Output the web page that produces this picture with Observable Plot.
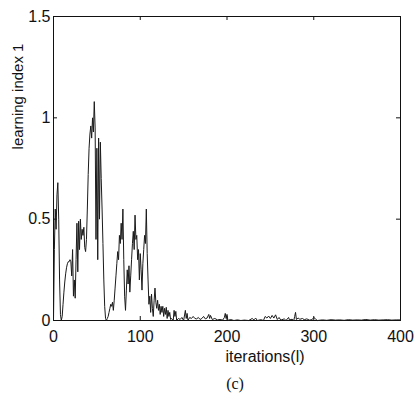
<!DOCTYPE html>
<html>
<head>
<meta charset="utf-8">
<script src="https://cdn.jsdelivr.net/npm/d3@7"></script>
<script src="https://cdn.jsdelivr.net/npm/@observablehq/plot@0.6"></script>
<style>
  html, body { margin: 0; padding: 0; background: #fff; }
  #chart svg { display: block; }
</style>
</head>
<body>
<div id="chart"></div>
<script>
const iterations = [0,1,2,3,4,5,6,7,8,9,10,11,12,13,14,15,16,17,18,19,20,21,22,23,24,25,26,27,28,29,30,31,32,33,34,35,36,37,38,39,40,41,42,43,44,45,46,47,48,49,50,51,52,53,54,55,56,57,58,59,60,61,62,63,64,65,66,67,68,69,70,71,72,73,74,75,76,77,78,79,80,81,82,83,84,85,86,87,88,89,90,91,92,93,94,95,96,97,98,99,100,101,102,103,104,105,106,107,108,109,110,111,112,113,114,115,116,117,118,119,120,121,122,123,124,125,126,127,128,129,130,131,132,133,134,135,136,138,139,140,141,142,144,146,148,150,152,153,154,155,157,159,161,163,165,167,169,171,173,175,177,179,180,181,183,186,189,192,195,197,198,199,200,201,204,208,212,216,220,225,229,231,233,235,239,242,244,246,248,250,252,254,256,258,260,262,266,268,271,272,275,277,278,279,280,282,284,287,289,292,295,298,300,302,304,310,315,320,325,330,335,340,345,350,355,360,365,370,375,380,385,390,395,400];
const learningIndex = [0.0,0.35,0.55,0.45,0.62,0.68,0.5,0.2,0.03,0.0,0.02,0.08,0.14,0.19,0.23,0.26,0.28,0.29,0.29,0.30,0.29,0.22,0.35,0.12,0.20,0.11,0.30,0.48,0.24,0.49,0.35,0.50,0.40,0.45,0.42,0.46,0.36,0.34,0.40,0.55,0.72,0.85,0.92,0.96,0.90,1.00,0.93,1.08,0.95,0.40,0.85,0.30,0.90,0.50,0.88,0.70,0.55,0.38,0.20,0.07,0.01,0.0,0.01,0.02,0.04,0.06,0.08,0.07,0.09,0.05,0.10,0.16,0.22,0.28,0.34,0.30,0.42,0.38,0.48,0.40,0.55,0.30,0.12,0.05,0.15,0.25,0.18,0.27,0.14,0.22,0.30,0.38,0.44,0.35,0.52,0.40,0.42,0.30,0.35,0.20,0.33,0.25,0.15,0.28,0.35,0.42,0.38,0.55,0.33,0.20,0.08,0.12,0.04,0.13,0.06,0.02,0.10,0.16,0.09,0.06,0.10,0.05,0.08,0.03,0.07,0.04,0.07,0.02,0.06,0.03,0.065,0.01,0.05,0.02,0.04,0.005,0.01,0.0,0.05,0.02,0.045,0.0,0.01,0.005,0.015,0.0,0.05,0.01,0.035,0.0,0.015,0.01,0.02,0.01,0.008,0.015,0.005,0.01,0.02,0.008,0.012,0.03,0.01,0.025,0.005,0.01,0.003,0.005,0.002,0.015,0.035,0.01,0.03,0.0,0.005,0.0,0.003,0.0,0.002,0.0,0.01,0.003,0.012,0.0,0.004,0.0,0.02,0.012,0.022,0.01,0.025,0.012,0.028,0.005,0.015,0.002,0.008,0.0,0.015,0.003,0.006,0.0,0.02,0.04,0.005,0.012,0.006,0.01,0.004,0.008,0.002,0.004,0.015,0.008,0.0,0.003,0.001,0.004,0.002,0.003,0.001,0.004,0.002,0.003,0.002,0.005,0.002,0.004,0.002,0.003,0.004,0.002,0.003,0.003];
const xTicks = [0, 100, 200, 300, 400];
const yTicks = [0, 0.5, 1, 1.5];
const xLabel = "iterations(l)";
const yLabel = "learning index 1";
const caption = "(c)";

const data = iterations.map((it, i) => ({it, v: learningIndex[i]}));

const W = 419, H = 402;
const mL = 53, mR = 19, mT = 16, mB = 82;
const pw = W - mL - mR, ph = H - mT - mB;
const ink = "#111";
const tickLen = 4;

const chart = Plot.plot({
  width: W,
  height: H,
  marginLeft: mL,
  marginRight: mR,
  marginTop: mT,
  marginBottom: mB,
  style: {fontFamily: "'Liberation Sans', Arial, sans-serif", fontSize: "16px", color: ink, background: "#fff"},
  x: {domain: [0, 400], ticks: xTicks},
  y: {domain: [0, 1.5], ticks: yTicks},
  marks: [
    Plot.frame({stroke: ink, strokeWidth: 1}),
    Plot.tickY(yTicks, {y: d => d, insetRight: pw - tickLen, stroke: ink}),
    Plot.tickY(yTicks, {y: d => d, insetLeft: pw - tickLen, stroke: ink}),
    Plot.tickX(xTicks, {x: d => d, insetTop: ph - tickLen, stroke: ink}),
    Plot.tickX(xTicks, {x: d => d, insetBottom: ph - tickLen, stroke: ink}),
    Plot.axisX({ticks: xTicks, tickSize: 0, tickPadding: 10, label: null, tickFormat: d => String(d), fontSize: 16}),
    Plot.axisY({ticks: yTicks, tickSize: 0, tickPadding: 3, label: null, tickFormat: d => String(d), fontSize: 16}),
    Plot.line(data, {x: "it", y: "v", stroke: "#1a1a1a", strokeWidth: 1}),
    Plot.text([xLabel], {text: d => d, frameAnchor: "bottom", textAnchor: "middle", lineAnchor: "middle", dx: 38, dy: 36, fontSize: 16, fill: ink}),
    Plot.text([yLabel], {text: d => d, frameAnchor: "top-left", textAnchor: "middle", lineAnchor: "middle", dx: -35, dy: 80, rotate: -90, fontSize: 15, fill: ink}),
    Plot.text([caption], {text: d => d, frameAnchor: "bottom", textAnchor: "middle", lineAnchor: "middle", dx: 8, dy: 63, fontSize: 16, fill: ink, fontFamily: "'Liberation Serif', 'Times New Roman', serif"})
  ]
});
document.getElementById("chart").appendChild(chart);
</script>
</body>
</html>
